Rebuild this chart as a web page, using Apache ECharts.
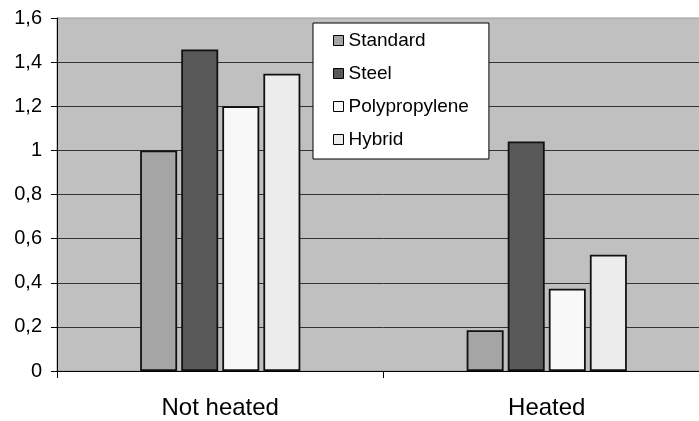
<!DOCTYPE html>
<html>
<head>
<meta charset="utf-8">
<script src="https://cdn.jsdelivr.net/npm/echarts@6/dist/echarts.min.js"></script>
<style>
html,body{margin:0;padding:0;background:#fff;overflow:hidden;width:699px;height:421px;}
#chart{width:710px;height:421px;}
</style>
</head>
<body>
<div id="chart"></div>
<script>
const categories = ['Not heated', 'Heated'];
const standard = [1.0, 0.185];
const steel = [1.457, 1.04];
const polypropylene = [1.2, 0.373];
const hybrid = [1.347, 0.527];
const yTicks = { min: 0, max: 1.6, interval: 0.2 };

const FONT = '"Liberation Sans", Arial, sans-serif';
const chart = echarts.init(document.getElementById('chart'), null, { renderer: 'canvas' });

function barSeries(name, data, color) {
  return {
    name: name,
    type: 'bar',
    data: data,
    barWidth: 37,
    barGap: '11%',
    itemStyle: { color: color, borderColor: '#111', borderWidth: 1.8 },
    emphasis: { disabled: true }
  };
}

chart.setOption({
  animation: false,
  backgroundColor: '#fff',
  textStyle: { fontFamily: FONT },
  grid: {
    left: 57, right: 0, top: 18, bottom: 50,
    show: true, backgroundColor: '#c0c0c0', borderColor: '#999', borderWidth: 1
  },
  legend: {
    orient: 'vertical',
    left: 313, top: 23,
    backgroundColor: '#fff',
    borderColor: '#000',
    borderWidth: 1,
    padding: [8, 20, 10, 20],
    itemGap: 14,
    itemWidth: 10,
    itemHeight: 10,
    itemTextGap: 6,
    icon: 'rect',
    itemStyle: { borderColor: '#000', borderWidth: 1 },
    textStyle: { fontFamily: FONT, fontSize: 19, color: '#000', lineHeight: 19 },
    selectedMode: false,
    data: ['Standard', 'Steel', 'Polypropylene', 'Hybrid']
  },
  xAxis: {
    type: 'category',
    data: categories,
    axisLine: { show: true, lineStyle: { color: '#000', width: 1 } },
    axisTick: { show: true, length: 7, lineStyle: { color: '#000' } },
    axisLabel: { fontFamily: FONT, fontSize: 24, color: '#000', margin: 25 },
    splitLine: { show: false }
  },
  yAxis: {
    type: 'value',
    min: yTicks.min, max: yTicks.max, interval: yTicks.interval,
    axisLine: { show: true, lineStyle: { color: '#000', width: 1 } },
    axisTick: { show: true, length: 6, lineStyle: { color: '#000' } },
    axisLabel: {
      fontFamily: FONT, fontSize: 20, color: '#000', margin: 15,
      formatter: v => String(Math.round(v * 10) / 10).replace('.', ',')
    },
    splitLine: { show: true, showMaxLine: false, lineStyle: { color: '#333', width: 1 } }
  },
  series: [
    barSeries('Standard', standard, '#a5a5a5'),
    barSeries('Steel', steel, '#595959'),
    barSeries('Polypropylene', polypropylene, '#f8f8f8'),
    barSeries('Hybrid', hybrid, '#ececec')
  ]
});
</script>
</body>
</html>
